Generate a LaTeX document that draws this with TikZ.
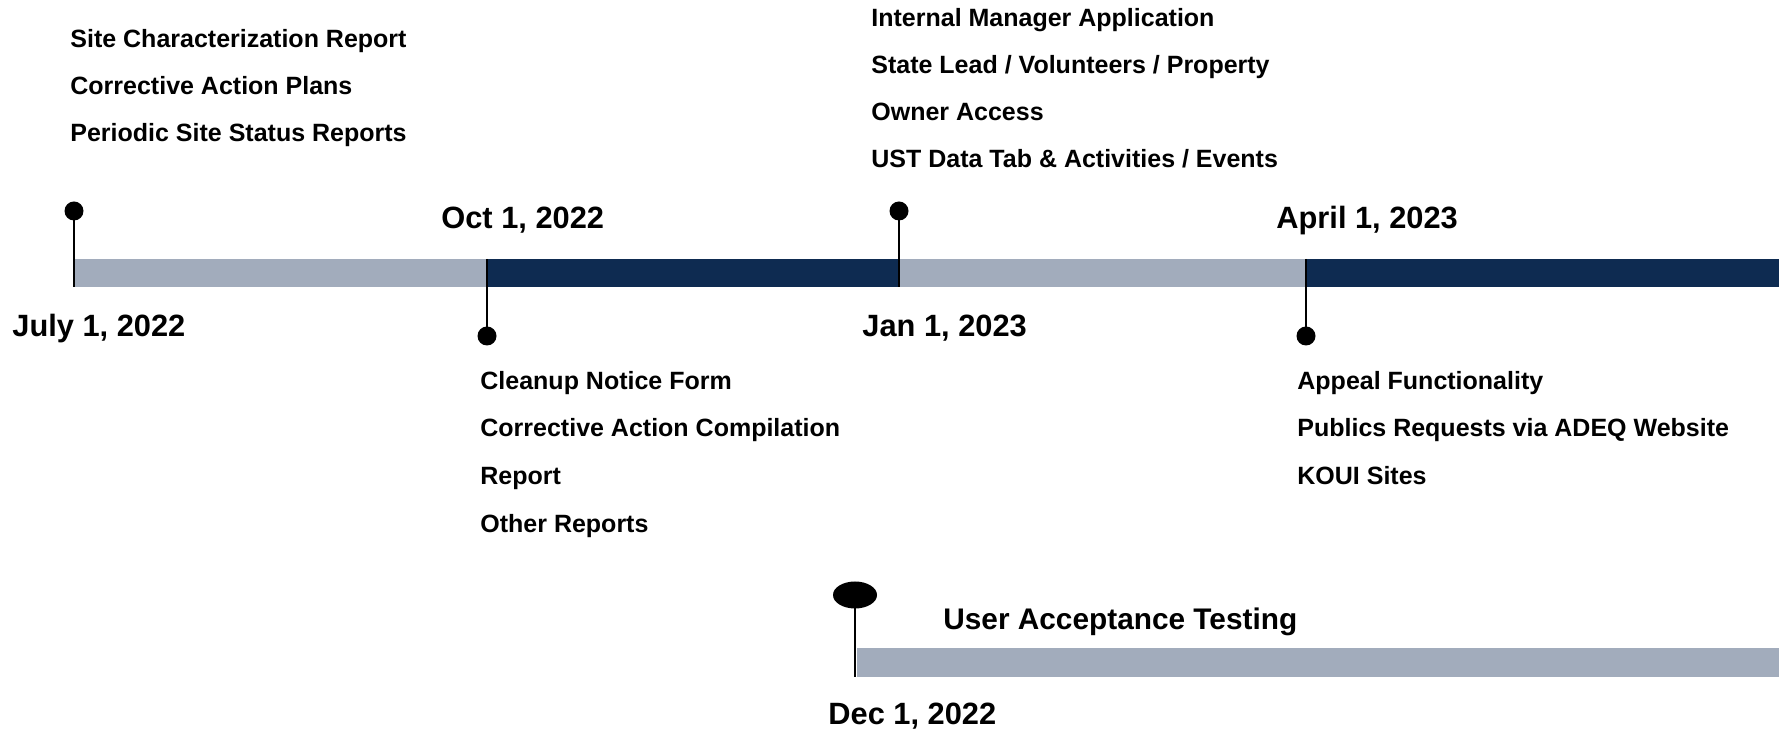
\documentclass[tikz,border=0pt]{standalone}
\usepackage{fontspec}
\setmainfont{Liberation Sans}
\usetikzlibrary{shapes.geometric}
\definecolor{barlight}{RGB}{162,172,188}
\definecolor{bardark}{RGB}{14,43,81}
\begin{document}
\begin{tikzpicture}[x=0.5pt,y=-0.5pt,
item/.style={
anchor=base west,
inner sep=0pt,
font={\bfseries\fontsize{12.5pt}{15}\selectfont},
},
date/.style={
anchor=base west,
inner sep=0pt,
font={\bfseries\fontsize{15.4pt}{18}\selectfont},
},
pin/.style={
circle,
fill=black,
inner sep=0pt,
minimum size=9.5pt,
},
bigpin/.style={
ellipse,
fill=black,
inner sep=0pt,
minimum width=22pt,
minimum height=13.5pt,
},
tick/.style={
line width=1pt,
},
light/.style={
fill=barlight,
},
dark/.style={
fill=bardark,
},
]
\useasboundingbox (0,0) rectangle (1779,731);
% main bar
\fill[light] (74,259) rectangle (487,287);
\fill[dark] (487,259) rectangle (899,287);
\fill[light] (899,259) rectangle (1306,287);
\fill[dark] (1306,259) rectangle (1779,287);
% testing bar
\fill[light] (857,648) rectangle (1779,677);

\coordinate (jul) at (74,287);
\coordinate (oct) at (487,259);
\coordinate (jan) at (899,287);
\coordinate (apr) at (1306,259);
\coordinate (dec) at (855,677);

\node[pin] (pjul) at (74,211) {};
\node[pin] (poct) at (487,336) {};
\node[pin] (pjan) at (899,211) {};
\node[pin] (papr) at (1306,336) {};
\node[bigpin] (pdec) at (855,595) {};

\draw[tick] (pjul.center) -- (jul);
\draw[tick] (oct) -- (poct.center);
\draw[tick] (pjan.center) -- (jan);
\draw[tick] (apr) -- (papr.center);
\draw[tick] (pdec.center) -- (dec);

\node[date] (djul) at (12,337) {July 1, 2022};
\node[date] (doct) at (441,229) {Oct 1, 2022};
\node[date] (djan) at (862,337) {Jan 1, 2023};
\node[date] (dapr) at (1276,229) {April 1, 2023};
\node[date] (ddec) at (828,725) {Dec 1, 2022};
\node[date,font={\bfseries\fontsize{14.9pt}{18}\selectfont}] (uat) at (943,630) {User Acceptance Testing};

\node[item] (a1) at (70,48) {Site Characterization Report};
\node[item] (a2) at (70,95) {Corrective Action Plans};
\node[item] (a3) at (70,142) {Periodic Site Status Reports};

\node[item] (b1) at (480,390) {Cleanup Notice Form};
\node[item] (b2) at (480,437) {Corrective Action Compilation};
\node[item] (b3) at (480,485) {Report};
\node[item] (b4) at (480,533) {Other Reports};

\node[item] (c1) at (871,27) {Internal Manager Application};
\node[item] (c2) at (871,74) {State Lead / Volunteers / Property};
\node[item] (c3) at (871,121) {Owner Access};
\node[item] (c4) at (871,168) {UST Data Tab \& Activities / Events};

\node[item] (d1) at (1297,390) {Appeal Functionality};
\node[item] (d2) at (1297,437) {Publics Requests via ADEQ Website};
\node[item] (d3) at (1297,485) {KOUI Sites};

\end{tikzpicture}
\end{document}
